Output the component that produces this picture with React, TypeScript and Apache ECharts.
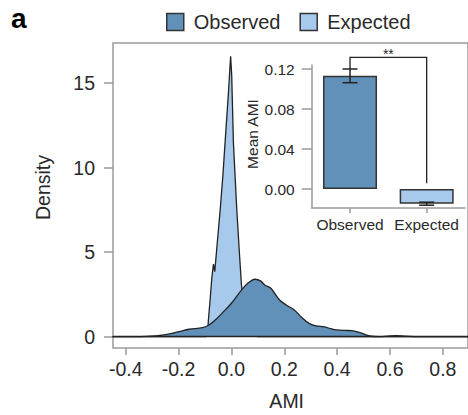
import React, { useEffect, useRef } from "react";
import * as echarts from "echarts";

// ---- Data ----
const observedDensity: [number, number][] = [
  [-0.45, 0], [-0.36, 0], [-0.32, 0.02], [-0.27, 0.07], [-0.23, 0.18], [-0.198, 0.3],
  [-0.16, 0.44], [-0.11, 0.53], [-0.085, 0.69], [-0.06, 1.0], [-0.036, 1.38], [0.0, 1.98],
  [0.038, 2.76], [0.065, 3.2], [0.09, 3.4], [0.11, 3.3], [0.126, 3.06], [0.15, 2.85],
  [0.182, 2.17], [0.21, 1.85], [0.238, 1.58], [0.265, 1.15], [0.294, 0.79], [0.32, 0.64],
  [0.35, 0.59], [0.375, 0.48], [0.399, 0.4], [0.43, 0.37], [0.455, 0.36], [0.486, 0.24],
  [0.524, 0.04], [0.56, 0.0], [0.59, 0.03], [0.623, 0.06], [0.66, 0.03], [0.71, 0.0], [0.9, 0],
];
const expectedDensity: [number, number][] = [
  [-0.45, 0], [-0.095, 0], [-0.09, 0.3], [-0.087, 1.0], [-0.08, 2.3], [-0.074, 3.5],
  [-0.068, 4.3], [-0.063, 3.85], [-0.055, 5.3], [-0.042, 7.6], [-0.032, 9.6], [-0.024, 11.5],
  [-0.011, 14.5], [-0.003, 16.6], [0.001, 15.5], [0.0075, 11.5], [0.02, 7.6], [0.03, 5.0],
  [0.038, 3.06], [0.05, 1.6], [0.065, 0.5], [0.08, 0.1], [0.1, 0], [0.9, 0],
];
const xTicks = [-0.4, -0.2, 0.0, 0.2, 0.4, 0.6, 0.8];
const yTicks = [0, 5, 10, 15];

const barCategories = ["Observed", "Expected"];
const barMeans = [0.1133, -0.0147];
const barErrLow = [0.1063, -0.0162];
const barErrHigh = [0.12, -0.0132];
const insetYTicks = [0.0, 0.04, 0.08, 0.12];
// bracket: [leftCat, rightCat, topValue, leftEnd, rightEnd]
const bracket = [0, 1, 0.1317, 0.12, 0.0058];
const bracketLabel = "**";

const OBS_COLOR = "#6190b8";
const EXP_COLOR = "#a7c9eb";
const FONT = "Liberation Sans";
const TEXT = "#2a2a2a";
const GRAY = "#9a9a9a";

export default function App() {
  const ref = useRef<HTMLDivElement>(null);
  useEffect(() => {
    if (!ref.current) return;
    const chart = echarts.init(ref.current, null, { renderer: "svg" });
    const option: any = {
      animation: false,
      textStyle: { fontFamily: FONT },
      legend: {
        left: 166,
        top: 12,
        padding: 0,
        itemWidth: 17,
        itemHeight: 17,
        itemGap: 19,
        icon: "rect",
        data: [
          { name: "Observed", itemStyle: { color: OBS_COLOR, borderColor: "#333", borderWidth: 1.5 } },
          { name: "Expected", itemStyle: { color: EXP_COLOR, borderColor: "#333", borderWidth: 1.5 } },
        ],
        textStyle: { fontSize: 20, color: TEXT, fontFamily: FONT, padding: [0, 0, 0, 5] },
      },
      grid: [
        {
          left: 113, top: 43, width: 360, height: 305,
          show: true, borderColor: GRAY, borderWidth: 1.5, backgroundColor: "transparent",
        },
        { left: 311.7, top: 65, width: 153.3, height: 143 },
      ],
      xAxis: [
        {
          type: "value", gridIndex: 0, min: -0.448, max: 0.895,
          axisLine: { show: false, onZero: false },
          splitLine: { show: false },
          axisTick: { show: true, length: 7, lineStyle: { color: GRAY, width: 1.5 }, customValues: xTicks },
          axisLabel: {
            customValues: xTicks, fontSize: 19.5, color: TEXT, fontFamily: FONT, margin: 11,
            formatter: (v: number) => v.toFixed(1),
          },
        },
        {
          type: "category", gridIndex: 1, data: barCategories, boundaryGap: true,
          axisLine: { show: true, onZero: false, lineStyle: { color: GRAY, width: 1.5 } },
          axisTick: { show: true, alignWithLabel: true, interval: 0, length: 5, lineStyle: { color: GRAY, width: 1.5 } },
          axisLabel: { interval: 0, fontSize: 15.5, color: TEXT, fontFamily: FONT, margin: 8, hideOverlap: false },
          splitLine: { show: false },
        },
      ],
      yAxis: [
        {
          type: "value", gridIndex: 0, min: -0.67, max: 17.38,
          axisLine: { show: false, onZero: false },
          splitLine: { show: false },
          axisTick: { show: true, length: 9, lineStyle: { color: GRAY, width: 1.5 }, customValues: yTicks },
          axisLabel: { customValues: yTicks, fontSize: 19.5, color: TEXT, fontFamily: FONT, margin: 18 },
        },
        {
          type: "value", gridIndex: 1, min: -0.019, max: 0.124,
          axisLine: { show: true, onZero: false, lineStyle: { color: GRAY, width: 1.5 } },
          splitLine: { show: false },
          axisTick: { show: true, length: 10, lineStyle: { color: GRAY, width: 1.5 }, customValues: insetYTicks },
          axisLabel: {
            customValues: insetYTicks, fontSize: 15.5, color: TEXT, fontFamily: FONT, margin: 17,
            formatter: (v: number) => v.toFixed(2),
          },
        },
      ],
      series: [
        {
          name: "Expected", type: "line", xAxisIndex: 0, yAxisIndex: 0,
          data: expectedDensity, showSymbol: false, symbol: "none", smooth: false,
          itemStyle: { color: EXP_COLOR },
          lineStyle: { color: "#222", width: 1.3 },
          areaStyle: { color: EXP_COLOR, opacity: 1 },
          z: 2,
        },
        {
          name: "Observed", type: "line", xAxisIndex: 0, yAxisIndex: 0,
          data: observedDensity, showSymbol: false, symbol: "none", smooth: 0.35,
          itemStyle: { color: OBS_COLOR },
          lineStyle: { color: "#222", width: 1.3 },
          areaStyle: { color: OBS_COLOR, opacity: 1 },
          markLine: {
            silent: true,
            symbol: "none",
            label: { show: false },
            lineStyle: { color: "#222", width: 1.3, type: "solid" },
            data: [{ yAxis: 0 }],
          },
          z: 3,
        },
        {
          name: "Mean AMI", type: "bar", xAxisIndex: 1, yAxisIndex: 1,
          barWidth: 54,
          data: barMeans.map((v, i) => ({
            value: v,
            itemStyle: { color: i === 0 ? OBS_COLOR : EXP_COLOR, borderColor: "#333", borderWidth: 1.5 },
          })),
          z: 4,
        },
        {
          name: "error", type: "custom", xAxisIndex: 1, yAxisIndex: 1,
          data: barCategories.map((_, i) => [i, barErrLow[i], barErrHigh[i]]),
          encode: { x: 0, y: [1, 2] },
          z: 5,
          renderItem: (params: any, api: any) => {
            const x = api.value(0);
            const lo = api.coord([x, api.value(1)]);
            const hi = api.coord([x, api.value(2)]);
            const hw = 7.5;
            const st = { stroke: "#222", lineWidth: 1.5 };
            return {
              type: "group",
              children: [
                { type: "line", shape: { x1: lo[0], y1: lo[1], x2: hi[0], y2: hi[1] }, style: st },
                { type: "line", shape: { x1: lo[0] - hw, y1: lo[1], x2: lo[0] + hw, y2: lo[1] }, style: st },
                { type: "line", shape: { x1: hi[0] - hw, y1: hi[1], x2: hi[0] + hw, y2: hi[1] }, style: st },
              ],
            };
          },
        },
        {
          name: "bracket", type: "custom", xAxisIndex: 1, yAxisIndex: 1,
          clip: false,
          data: [bracket],
          encode: { x: [0, 1], y: [2, 3, 4] },
          z: 5,
          renderItem: (params: any, api: any) => {
            const l = api.value(0);
            const r = api.value(1);
            const top = api.value(2);
            const pL = api.coord([l, api.value(3)]);
            const pLT = api.coord([l, top]);
            const pRT = api.coord([r, top]);
            const pR = api.coord([r, api.value(4)]);
            return {
              type: "group",
              children: [
                {
                  type: "polyline",
                  shape: { points: [pL, pLT, pRT, pR] },
                  style: { stroke: "#222", lineWidth: 1.3, fill: "none" },
                },
                {
                  type: "text",
                  x: (pLT[0] + pRT[0]) / 2,
                  y: pLT[1] - 3,
                  style: {
                    text: bracketLabel, fontSize: 14, fontFamily: FONT, fill: TEXT,
                    align: "center", verticalAlign: "middle",
                  },
                },
              ],
            };
          },
        },
      ],
      graphic: [
        {
          type: "text", x: 11, y: 18.6,
          style: { text: "a", fontSize: 28, fontWeight: "bold", fontFamily: FONT, fill: "#000", verticalAlign: "middle" },
        },
        {
          type: "text", x: 42.5, y: 187.5, rotation: Math.PI / 2,
          style: { text: "Density", fontSize: 19.5, fontFamily: FONT, fill: TEXT, align: "center", verticalAlign: "middle" },
        },
        {
          type: "text", x: 286.7, y: 401,
          style: { text: "AMI", fontSize: 19.5, fontFamily: FONT, fill: TEXT, align: "center", verticalAlign: "middle" },
        },
        {
          type: "text", x: 252.7, y: 134, rotation: Math.PI / 2,
          style: { text: "Mean AMI", fontSize: 15.5, fontFamily: FONT, fill: TEXT, align: "center", verticalAlign: "middle" },
        },
      ],
    };
    chart.setOption(option);
    return () => chart.dispose();
  }, []);
  return (
    <div
      ref={ref}
      style={{ position: "fixed", left: 0, top: 0, width: 468, height: 415, background: "#fff" }}
    />
  );
}
